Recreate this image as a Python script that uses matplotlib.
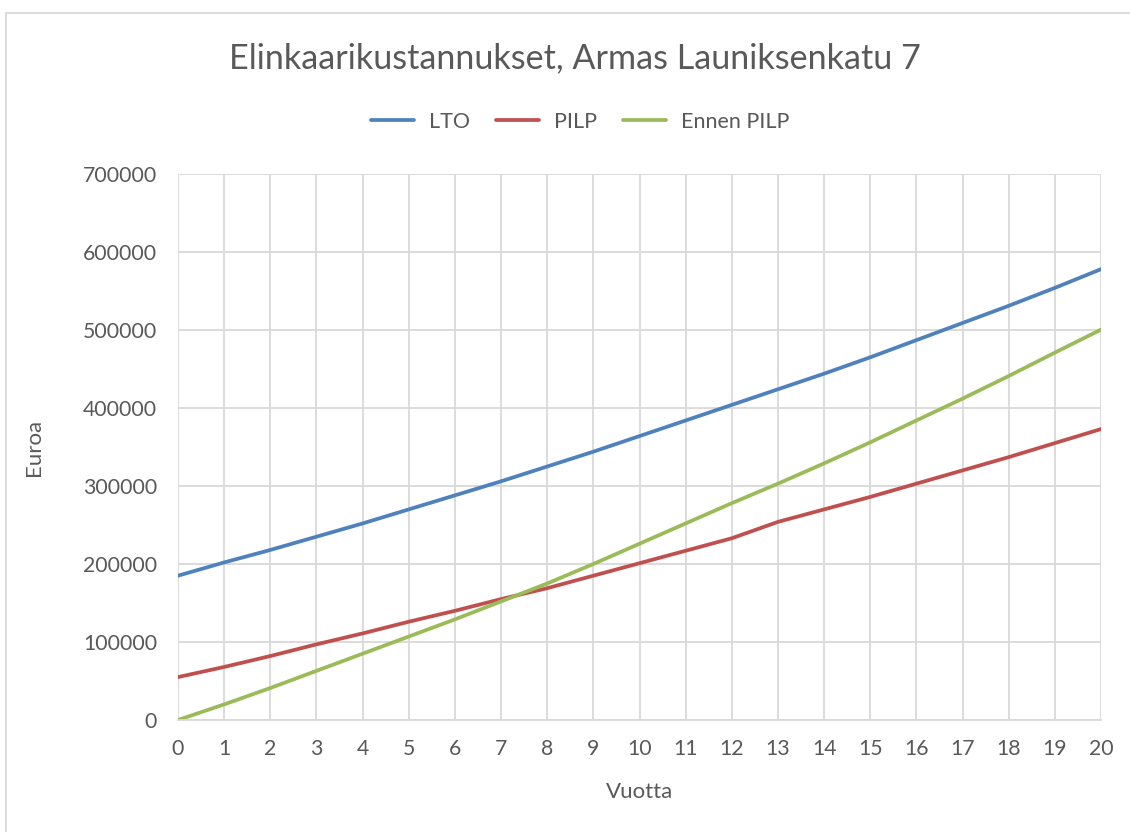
import matplotlib
matplotlib.use("Agg")
import matplotlib.pyplot as plt
from matplotlib.lines import Line2D

# Data
years = list(range(21))
lto = [185000, 202000, 218000, 235000, 252000, 270000, 288000, 306000, 325000, 344000,
       364000, 384000, 404000, 424000, 444000, 465000, 487000, 509000, 531000, 554000, 578000]
pilp = [55000, 68000, 82000, 97000, 111000, 126000, 140000, 155000, 169000, 185000,
        201000, 217000, 233000, 254000, 270000, 286000, 303000, 320000, 337000, 355000, 373000]
ennen_pilp = [0, 20000, 41000, 63000, 85000, 107000, 129000, 152000, 175000, 200000,
              226000, 252000, 278000, 303000, 329000, 356000, 384000, 412000, 441000, 471000, 500500]
y_ticks = [0, 100000, 200000, 300000, 400000, 500000, 600000, 700000]

plt.rcParams['font.family'] = ['Lato', 'DejaVu Sans']
text_color = '#595959'
grid_color = '#d9d9d9'

fig = plt.figure(figsize=(11.3, 8.32), dpi=100)
ax = fig.add_axes([178 / 1130, 1 - 720 / 832, (1101 - 178) / 1130, (720 - 174) / 832])

ax.plot(years, lto, color='#4f81bd', lw=2.7, label='LTO', solid_capstyle='round')
ax.plot(years, pilp, color='#c0504d', lw=2.7, label='PILP', solid_capstyle='round')
ax.plot(years, ennen_pilp, color='#9bbb59', lw=2.7, label='Ennen PILP', solid_capstyle='round')

ax.set_xlim(0, 20)
ax.set_ylim(0, 700000)
ax.set_xticks(years)
ax.set_yticks(y_ticks)
ax.set_yticklabels([str(v) for v in y_ticks])
ax.grid(True, color=grid_color, lw=1.3)
ax.set_axisbelow(True)
for side in ['top', 'right', 'left']:
    ax.spines[side].set_visible(False)
ax.spines['bottom'].set_color(grid_color)
ax.spines['bottom'].set_linewidth(1.3)
ax.tick_params(length=0, labelsize=15.3, colors=text_color)
ax.tick_params(axis='x', pad=14)
ax.tick_params(axis='y', pad=15)

ax.set_xlabel('Vuotta', fontsize=16, color=text_color, labelpad=16)
ax.set_ylabel('Euroa', fontsize=16, color=text_color, labelpad=28)

fig.text(575 / 1130, 1 - 58 / 832, 'Elinkaarikustannukset, Armas Launiksenkatu 7',
         ha='center', va='center', fontsize=24.6, color=text_color)

leg = fig.legend(loc='center', bbox_to_anchor=(580 / 1130, 1 - 122 / 832), ncol=3,
                 frameon=False, fontsize=15.5, handlelength=2.0, columnspacing=1.2,
                 handletextpad=0.7)
for t in leg.get_texts():
    t.set_color(text_color)

# outer chart border (cropped on right and bottom)
fig.add_artist(Line2D([6 / 1130, 1], [1 - 13 / 832, 1 - 13 / 832], color=grid_color, lw=1.3))
fig.add_artist(Line2D([6 / 1130, 6 / 1130], [0, 1 - 13 / 832], color=grid_color, lw=1.3))

fig.savefig('out.png', dpi=100)
